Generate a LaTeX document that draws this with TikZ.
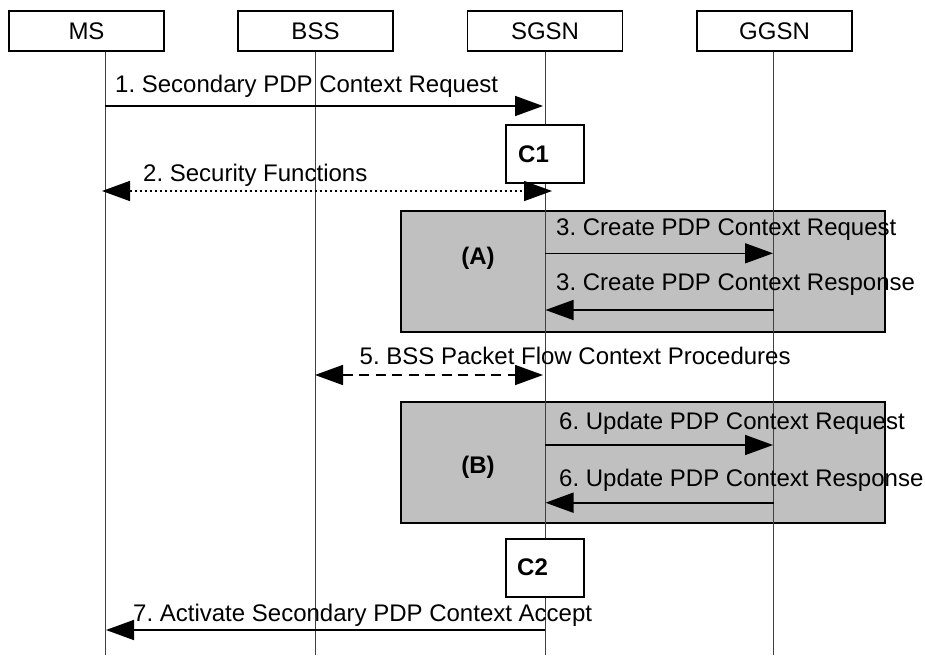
\documentclass[tikz,border=0pt]{standalone}
\usepackage{fontspec}
\setmainfont{Liberation Sans}
\usetikzlibrary{arrows.meta}
\definecolor{grayfill}{HTML}{C0C0C0}
\frenchspacing
\begin{document}
\begin{tikzpicture}[x=1pt,y=-1pt,
  font=\fontsize{24}{28}\selectfont\frenchspacing,
  hdr/.style={draw, line width=1.5pt, minimum width=155pt, minimum height=40pt, inner sep=0pt, fill=white},
  lifeline/.style={line width=1pt, black!75},
  grp/.style={draw, line width=1.6pt, fill=grayfill},
  cbox/.style={draw, line width=1.5pt, fill=white, minimum width=78pt, minimum height=58pt, inner sep=0pt},
  msg/.style={line width=1.6pt, -{Triangle[length=28pt,width=20pt]}},
  dmsg/.style={line width=1.6pt, {Triangle[length=28pt,width=20pt]}-{Triangle[length=28pt,width=20pt]}},
  lbl/.style={anchor=base west, inner sep=0pt},
  blbl/.style={anchor=base, inner sep=0pt, font=\fontsize{24}{28}\selectfont\bfseries}
]
\fill[white] (0,0) rectangle (925,655);
\useasboundingbox (0,0) rectangle (925,655);

% group boxes
\draw[grp] (401,211) rectangle (885,332);
\draw[grp] (401,402) rectangle (885,523);

% lifeline coordinates
\coordinate (msT) at (105.3,51);   \coordinate (msB) at (105.3,655);
\coordinate (bssT) at (315,51);    \coordinate (bssB) at (315,655);
\coordinate (sgT) at (545,51);     \coordinate (sgB) at (545,655);
\coordinate (ggT) at (773.5,51);   \coordinate (ggB) at (773.5,655);
\draw[lifeline] (msT) -- (msB);
\draw[lifeline] (bssT) -- (bssB);
\draw[lifeline] (sgT) -- (sgB);
\draw[lifeline] (ggT) -- (ggB);

% header boxes
\node[hdr] (ms) at (86.5,31) {MS};
\node[hdr] (bss) at (315.5,31) {BSS};
\node[hdr] (sgsn) at (545,31) {SGSN};
\node[hdr] (ggsn) at (774.5,31) {GGSN};

% C boxes
\node[cbox] (c1) at (545,154) {};
\node[cbox] (c2) at (545,568) {};
\node[blbl, anchor=base west] (c1l) at (518,162.7) {C1};
\node[blbl, anchor=base west] (c2l) at (517,575) {C2};

% group labels
\node[blbl] (la) at (478,264) {(A)};
\node[blbl] (lb) at (478,473) {(B)};

% message labels
\node[lbl] (t1) at (115,93) {1. Secondary PDP Context Request};
\node[lbl] (t2) at (143,182) {2. Security Functions};
\node[lbl] (t3a) at (556,235) {3. Create PDP Context Request};
\node[lbl] (t3b) at (556,290) {3. Create PDP Context Response};
\node[lbl] (t5) at (359.5,364) {5. BSS Packet Flow Context Procedures};
\node[lbl] (t6a) at (559,429) {6. Update PDP Context Request};
\node[lbl] (t6b) at (559,486) {6. Update PDP Context Response};
\node[lbl] (t7) at (133,621.5) {7. Activate Secondary PDP Context Accept};

% message end points
\coordinate (m1a) at (105.3,106); \coordinate (m1b) at (543,106);
\coordinate (m2a) at (102,191);   \coordinate (m2b) at (552,191);
\coordinate (m3a) at (545,253.3); \coordinate (m3b) at (773,253.3);
\coordinate (m4a) at (773.5,310); \coordinate (m4b) at (545.5,310);
\coordinate (m5a) at (315,375);   \coordinate (m5b) at (543,375);
\coordinate (m6a) at (545,445);   \coordinate (m6b) at (773,445);
\coordinate (m7a) at (773.5,502.7); \coordinate (m7b) at (545.5,502.7);
\coordinate (m8a) at (545,630);   \coordinate (m8b) at (106,630);

\draw[msg] (m1a) -- (m1b);
\draw[dmsg, dash pattern=on 2pt off 3pt] (m2a) -- (m2b);
\draw[msg] (m3a) -- (m3b);
\draw[msg] (m4a) -- (m4b);
\draw[dmsg, dash pattern=on 10pt off 6.5pt] (m5a) -- (m5b);
\draw[msg] (m6a) -- (m6b);
\draw[msg] (m7a) -- (m7b);
\draw[msg] (m8a) -- (m8b);
\end{tikzpicture}
\end{document}
